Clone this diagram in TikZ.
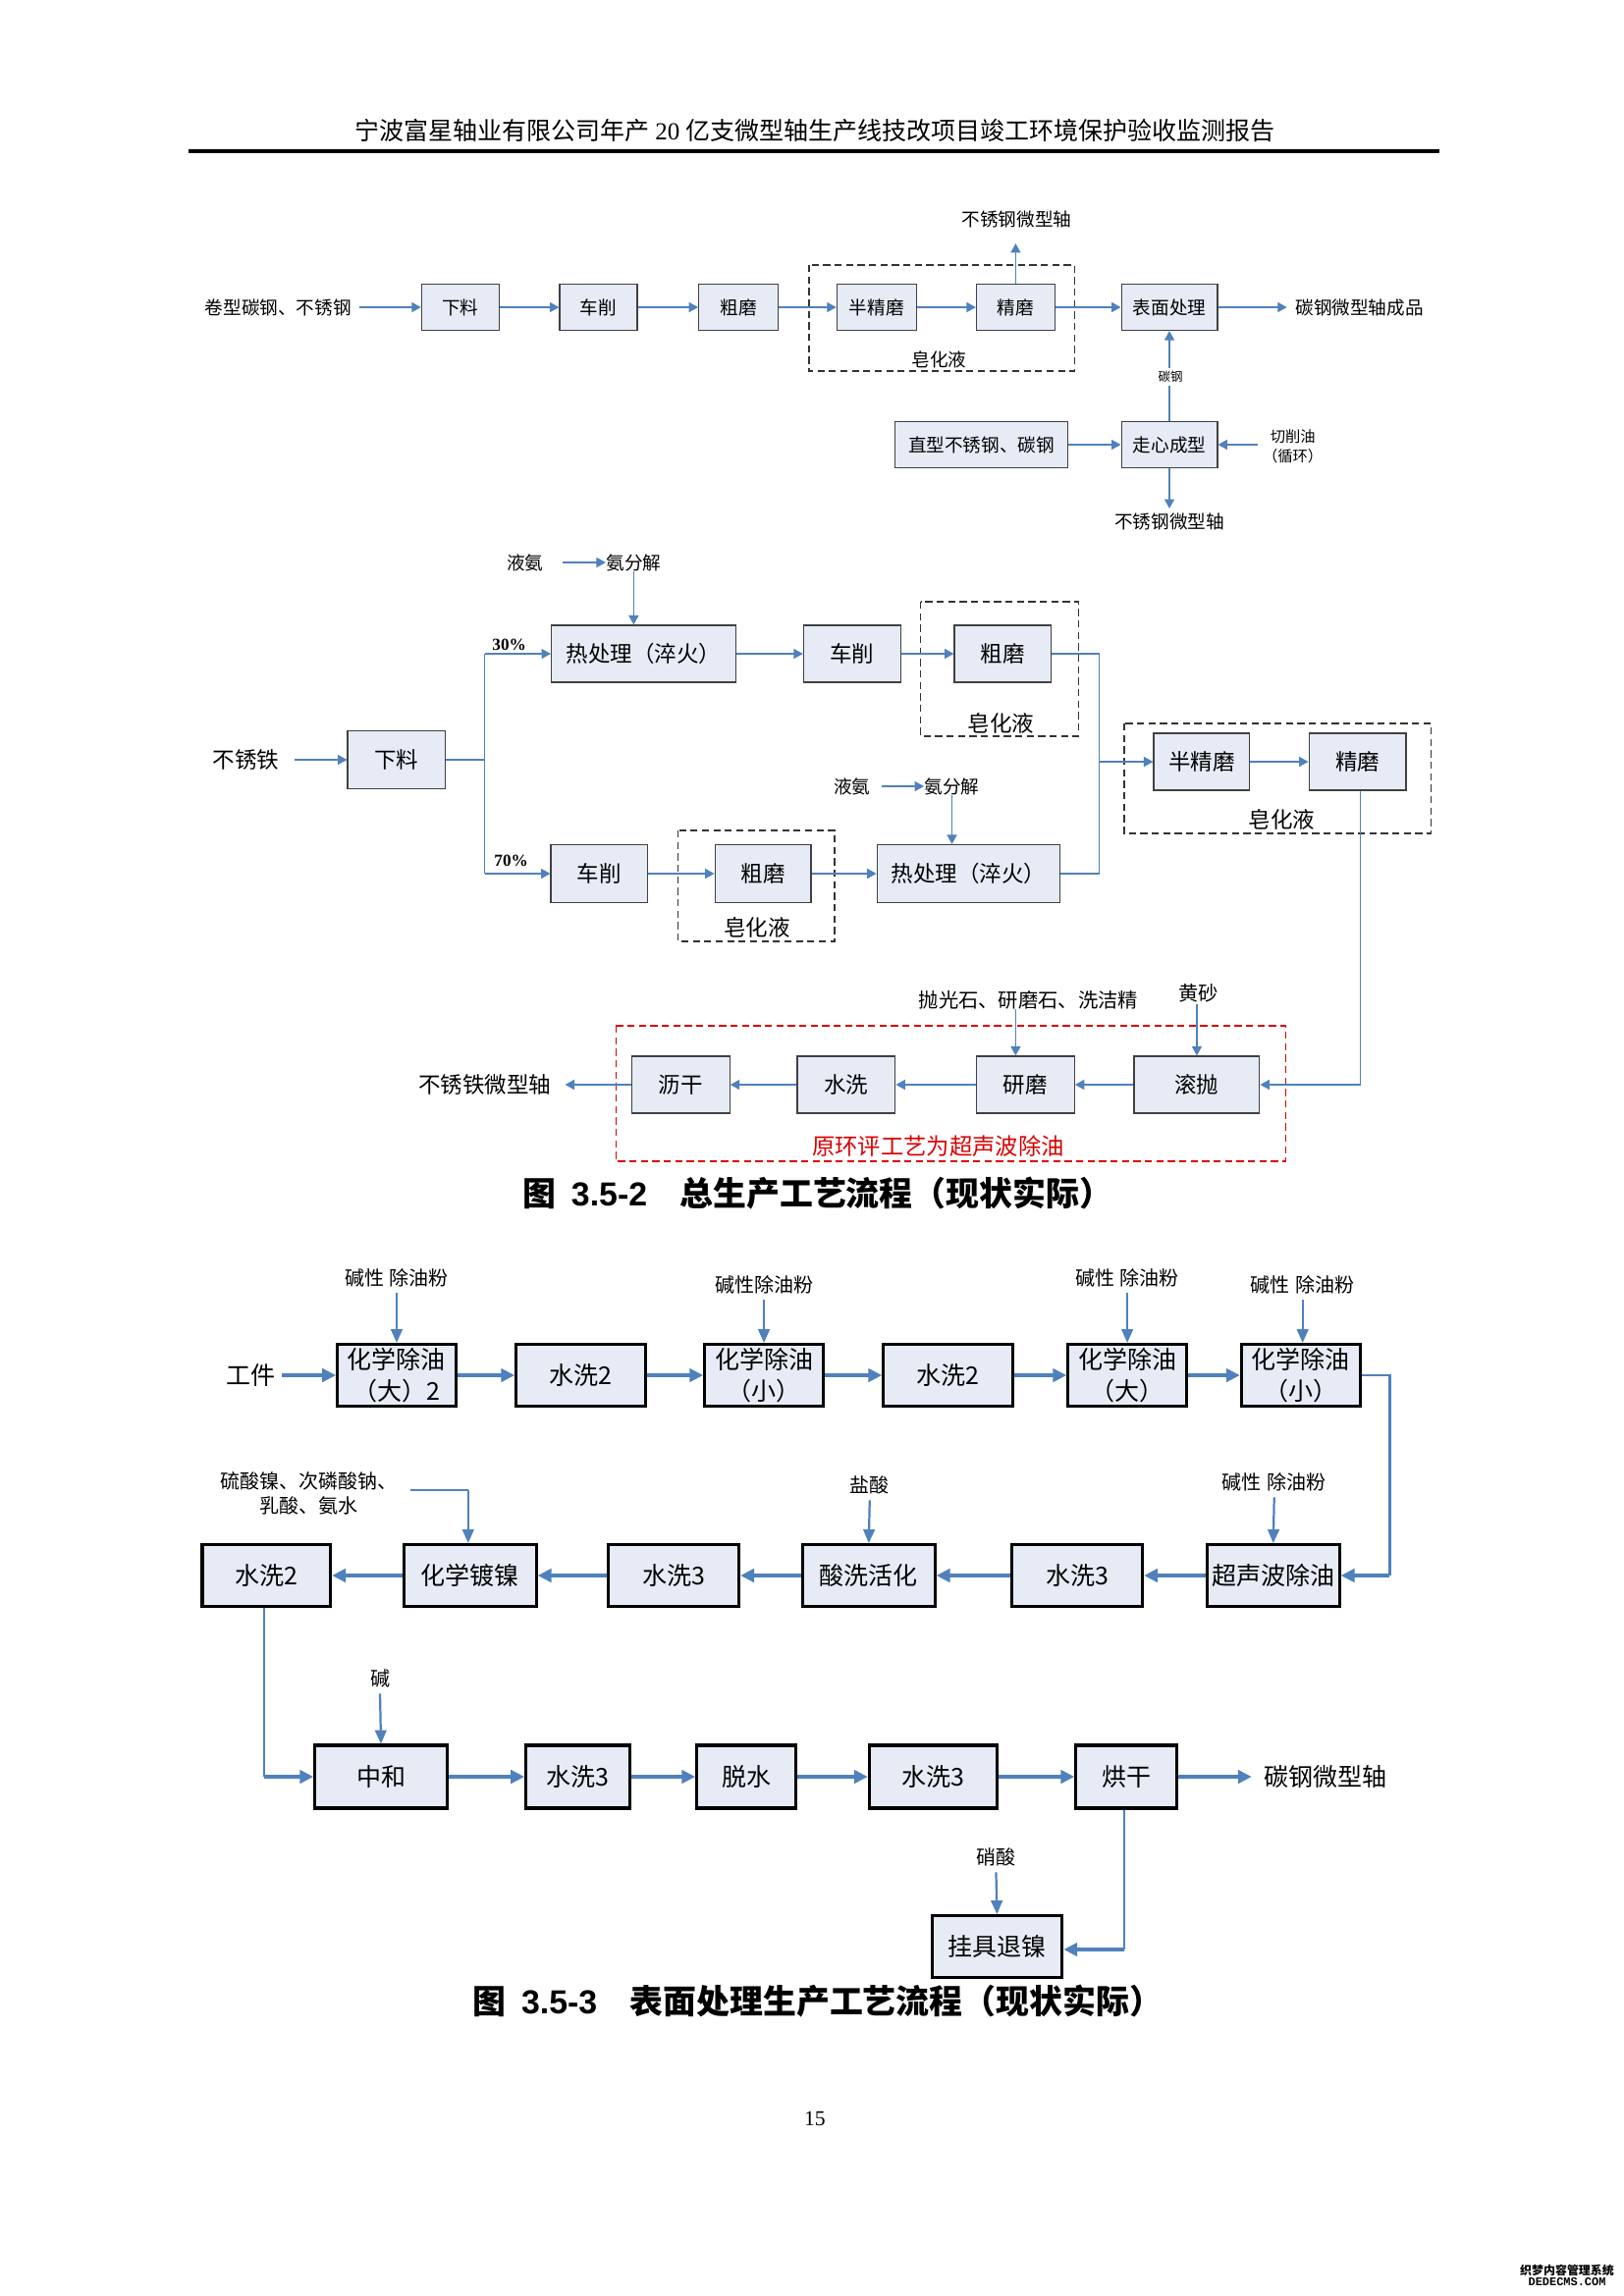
\documentclass[tikz,border=0pt]{standalone}
\usepackage{fontspec}
\setmainfont{Liberation Serif}
\newfontfamily\cjk{Noto Sans CJK SC}
\newfontfamily\arialf{Liberation Sans}
\newfontfamily\monof{Liberation Mono}
\usetikzlibrary{arrows.meta}
\definecolor{ablue}{RGB}{79,129,189}
\definecolor{bfill}{RGB}{230,235,246}
\newcommand\myfs[2]{\fontsize{#1}{#2}\selectfont}
\newcommand\B[7][b1]{\node[#1,minimum width=#5*0.3591pt,minimum height=#6*0.36pt] (#2) at (#3,#4) {#7};}
\tikzset{
 b1/.style={draw=black!75,line width=0.45pt,fill=bfill,inner sep=0pt,font=\cjk\myfs{6.7}{8}},
 b2/.style={b1,font=\cjk\myfs{8.1}{9.5}},
 b3/.style={draw=black,line width=1.1pt,fill=bfill,inner sep=0pt,align=center,font=\cjk\myfs{9.0}{11.5}},
 t1/.style={inner sep=0pt,font=\cjk\myfs{6.7}{8}},
 t2/.style={inner sep=0pt,font=\cjk\myfs{8.1}{9.5}},
 t3/.style={inner sep=0pt,font=\cjk\myfs{9.0}{11}},
 c3/.style={inner sep=0pt,align=center,font=\cjk\myfs{7.2}{9}},
 ar/.style={draw=ablue,line width=0.5pt,-{Triangle[length=3.4pt,width=3.6pt]}},
 ln/.style={draw=ablue,line width=0.5pt},
 ar3/.style={draw=ablue,line width=1.3pt,-{Triangle[length=5pt,width=4.8pt]}},
 fd3/.style={draw=ablue,line width=0.8pt,-{Triangle[length=5pt,width=4.2pt]}},
 ln3/.style={draw=ablue,line width=0.8pt},
 dbox/.style={draw=black!80,line width=0.5pt,dash pattern=on 2.6pt off 1.6pt},
 rbox/.style={draw=red!85!black,line width=0.5pt,dash pattern=on 2.6pt off 1.6pt},
}
\begin{document}
\begin{tikzpicture}[x=0.3591pt,y=-0.36pt]
\useasboundingbox[fill=white] (0,0) rectangle (1658.1,2339);
% header
\node[inner sep=0pt,font=\cjk\myfs{9.0}{10}] (hdr) at (832,133) {宁波富星轴业有限公司年产 {\rmfamily 20} 亿支微型轴生产线技改项目竣工环境保护验收监测报告};
\coordinate (hl) at (192,154);
\coordinate (hr) at (1470,154);
\draw[line width=1.1pt] (hl) -- (hr);

% ===== Figure 1 =====
\draw[dbox] (826,270) rectangle (1097,378);
\node[t1] (zh1) at (959,366) {皂化液};
\node[t1] (in1) at (284,313) {卷型碳钢、不锈钢};
\B{xl}{470}{313}{79}{47}{下料}
\B{cx}{611}{313}{79}{47}{车削}
\B{cm}{754}{313}{81}{47}{粗磨}
\B{bj}{895}{313}{81}{47}{半精磨}
\B{jm}{1037}{313}{80}{47}{精磨}
\B{bm}{1194}{313}{98}{47}{表面处理}
\node[t1] (out1) at (1388,313) {碳钢微型轴成品};
\coordinate (in1e) at (367,313);
\coordinate (out1w) at (1314,313);
\draw[ar] (in1e) -- (xl);
\draw[ar] (xl) -- (cx);
\draw[ar] (cx) -- (cm);
\draw[ar] (cm) -- (bj);
\draw[ar] (bj) -- (jm);
\draw[ar] (jm) -- (bm);
\draw[ar] (bm) -- (out1w);
\coordinate (jmup) at (1037,248);
\draw[ar] (jm.north) -- (jmup);
\node[t1] (bx1) at (1038,223) {不锈钢微型轴};
\B{zx}{1194}{453}{98}{47}{走心成型}
\B{zs}{1002}{453}{177}{47}{直型不锈钢、碳钢}
\draw[ar] (zs) -- (zx);
\draw[ar] (zx.north) -- (bm.south);
\node[inner sep=1pt,fill=white,font=\cjk\myfs{4.5}{5}] (tg) at (1195,384) {碳钢};
\node[inner sep=0pt,align=center,font=\cjk\myfs{5.5}{7.2}] (qx) at (1320,455) {切削油\\（循环）};
\coordinate (qxw) at (1284,453);
\draw[ar] (qxw) -- (zx.east);
\coordinate (zxd) at (1194,518);
\draw[ar] (zx.south) -- (zxd);
\node[t1] (bx2) at (1194,531) {不锈钢微型轴};

% ===== Figure 2 =====
\draw[dbox] (940,613) rectangle (1101,750);
\node[t2] (zh2) at (1022,737) {皂化液};
\draw[dbox] (692,846) rectangle (852,959);
\node[t2] (zh3) at (773,945) {皂化液};
\draw[dbox] (1148,737) rectangle (1461,849);
\node[t2] (zh4) at (1309,835) {皂化液};

\node[t1] (la1) at (536,573) {液氨};
\node[t1] (af1) at (647,573) {氨分解};
\coordinate (la1e) at (574,573);
\draw[ar] (la1e) -- (af1.west);
\B[b2]{rc1}{657}{666}{188}{58}{热处理（淬火）}
\B[b2]{cx2}{870}{666}{99}{58}{车削}
\B[b2]{cm2}{1024}{666}{99}{58}{粗磨}
\draw[ar] (af1.south) -- (af1.south |- rc1.north);
\draw[ar] (rc1) -- (cx2);
\draw[ar] (cx2) -- (cm2);

\node[t2] (bxt) at (251,774) {不锈铁};
\B[b2]{xl2}{405}{774}{100}{59}{下料}
\coordinate (bxte) at (301,774);
\draw[ar] (bxte) -- (xl2.west);
\coordinate (tm) at (495,774);
\coordinate (tt) at (495,666);
\coordinate (tb) at (495,890);
\draw[ln] (xl2.east) -- (tm);
\draw[ln] (tt) -- (tb);
\draw[ar] (tt) -- (rc1.west);
\node[inner sep=0pt,font=\bfseries\myfs{6.2}{7}] (p30) at (520,657) {30\%};
\node[inner sep=0pt,font=\bfseries\myfs{6.2}{7}] (p70) at (522,877) {70\%};

\B[b2]{cx3}{612}{890}{99}{59}{车削}
\B[b2]{cm3}{779}{890}{98}{59}{粗磨}
\B[b2]{rc2}{989}{890}{187}{59}{热处理（淬火）}
\draw[ar] (tb) -- (cx3.west);
\draw[ar] (cx3) -- (cm3);
\draw[ar] (cm3) -- (rc2);
\node[t1] (la2) at (870,801) {液氨};
\node[t1] (af2) at (972,801) {氨分解};
\coordinate (la2e) at (900,801);
\draw[ar] (la2e) -- (af2.west);
\draw[ar] (af2.south) -- (af2.south |- rc2.north);

\coordinate (mt) at (1122,666);
\coordinate (mb) at (1122,890);
\coordinate (mm) at (1122,776);
\draw[ln] (cm2.east) -- (mt) -- (mb) -- (rc2.east);
\B[b2]{bj2}{1227}{776}{98}{58}{半精磨}
\B[b2]{jm2}{1386}{776}{99}{58}{精磨}
\draw[ar] (mm) -- (bj2.west);
\draw[ar] (bj2) -- (jm2);

\draw[rbox] (629,1045) rectangle (1313,1183);
\node[inner sep=0pt,text=red!85!black,font=\cjk\myfs{8.4}{10}] (ypl) at (958,1168) {原环评工艺为超声波除油};
\B[b2]{gp}{1222}{1105}{128}{58}{滚抛}
\B[b2]{ym}{1047}{1105}{100}{58}{研磨}
\B[b2]{sx}{864}{1105}{100}{58}{水洗}
\B[b2]{lg}{695}{1105}{100}{58}{沥干}
\node[t2] (out2) at (495,1105) {不锈铁微型轴};
\coordinate (jmd) at (1389,1105);
\draw[ln] (jm2.south -| jmd) -- (jmd);
\draw[ar] (jmd) -- (gp.east);
\draw[ar] (gp) -- (ym);
\draw[ar] (ym) -- (sx);
\draw[ar] (sx) -- (lg);
\coordinate (out2e) at (577,1105);
\draw[ar] (lg.west) -- (out2e);
\node[inner sep=0pt,font=\cjk\myfs{7.3}{8}] (pgs) at (1050,1019) {抛光石、研磨石、洗洁精};
\coordinate (pgd) at (1037,1028);
\draw[ar] (pgd) -- (pgd |- ym.north);
\node[inner sep=0pt,font=\cjk\myfs{7.3}{8}] (hs) at (1224,1012) {黄砂};
\coordinate (hsd) at (1222,1023);
\draw[ar] (hsd) -- (hsd |- gp.north);

\node[inner sep=0pt,font=\myfs{12.2}{14}] (cap1) at (835,1216) {{\cjk\bfseries 图}\hspace{5.5pt}{\arialf\bfseries 3.5-2}\hspace{12pt}{\cjk\bfseries 总生产工艺流程（现状实际）}};

% ===== Figure 3 =====
\node[t3] (w1) at (256,1401) {工件};
\B[b3]{a1}{405}{1401}{121}{63}{化学除油\\（大）2}
\B[b3]{a2}{593}{1401}{132}{63}{水洗2}
\B[b3]{a3}{780}{1401}{121}{63}{化学除油\\（小）}
\B[b3]{a4}{968}{1401}{132}{63}{水洗2}
\B[b3]{a5}{1151}{1401}{121}{63}{化学除油\\（大）}
\B[b3]{a6}{1328}{1401}{121}{63}{化学除油\\（小）}
\coordinate (w1e) at (288,1401);
\draw[ar3] (w1e) -- (a1.west);
\draw[ar3] (a1) -- (a2);
\draw[ar3] (a2) -- (a3);
\draw[ar3] (a3) -- (a4);
\draw[ar3] (a4) -- (a5);
\draw[ar3] (a5) -- (a6);
\node[c3] (c1) at (405,1302) {碱性\hspace{2pt}除油粉};
\node[c3] (c2) at (780,1309) {碱性除油粉};
\node[c3] (c3) at (1151,1302) {碱性\hspace{2pt}除油粉};
\node[c3] (c4) at (1330,1309) {碱性\hspace{2pt}除油粉};
\draw[fd3] ([yshift=-2pt]c1.south) -- (a1.north);
\draw[fd3] ([yshift=-2pt]c2.south) -- (a3.north);
\draw[fd3] ([yshift=-2pt]c3.south) -- (a5.north);
\draw[fd3] ([yshift=-2pt]c4.south) -- (c4.south |- a6.north);

\B[b3]{r1}{272}{1605}{131}{63}{水洗2}
\B[b3]{r2}{480}{1605}{135}{63}{化学镀镍}
\B[b3]{r3}{688}{1605}{133}{63}{水洗3}
\B[b3]{r4}{887}{1605}{135}{63}{酸洗活化}
\B[b3]{r5}{1100}{1605}{133}{63}{水洗3}
\B[b3]{r6}{1300}{1605}{135}{63}{超声波除油}
\coordinate (rt) at (1419,1401);
\coordinate (rb) at (1419,1605);
\draw[ln3] (a6.east) -- (rt) -- (rb);
\draw[ar3] (rb) -- (r6.east);
\draw[ar3] (r6) -- (r5);
\draw[ar3] (r5) -- (r4);
\draw[ar3] (r4) -- (r3);
\draw[ar3] (r3) -- (r2);
\draw[ar3] (r2) -- (r1);
\node[c3] (ni) at (315,1521) {硫酸镍、次磷酸钠、\\乳酸、氨水};
\coordinate (nis) at (419,1518);
\coordinate (nic) at (478,1518);
\draw[ln3] (nis) -- (nic);
\draw[fd3] (nic) -- (nic |- r2.north);
\node[c3] (hcl) at (888,1513) {盐酸};
\draw[fd3] ([yshift=-2pt]hcl.south) -- (r4.north);
\node[c3] (c5) at (1301,1510) {碱性\hspace{2pt}除油粉};
\draw[fd3] ([yshift=-2pt]c5.south) -- (r6.north);

\B[b3]{d1}{389}{1810}{135}{64}{中和}
\B[b3]{d2}{590}{1810}{106}{64}{水洗3}
\B[b3]{d3}{762}{1810}{101}{64}{脱水}
\B[b3]{d4}{953}{1810}{131}{64}{水洗3}
\B[b3]{d5}{1150}{1810}{103}{64}{烘干}
\coordinate (dl) at (270,1810);
\draw[ln3] (r1.south -| dl) -- (dl);
\draw[ar3] (dl) -- (d1.west);
\draw[ar3] (d1) -- (d2);
\draw[ar3] (d2) -- (d3);
\draw[ar3] (d3) -- (d4);
\draw[ar3] (d4) -- (d5);
\node[t3] (out3) at (1353,1810) {碳钢微型轴};
\coordinate (out3w) at (1278,1810);
\draw[ar3] (d5.east) -- (out3w);
\node[c3] (jian) at (388,1710) {碱};
\draw[fd3] ([yshift=-2pt]jian.south) -- (d1.north);

\B[b3]{e1}{1018}{1983}{133}{63}{挂具退镍}
\coordinate (dd) at (1148,1986);
\draw[ln3] (d5.south -| dd) -- (dd);
\draw[ar3] (dd) -- (e1.east |- dd);
\node[c3] (xs) at (1017,1892) {硝酸};
\draw[fd3] ([yshift=-2pt]xs.south) -- (e1.north);

\node[inner sep=0pt,font=\myfs{12.2}{14}] (cap2) at (835,2039) {{\cjk\bfseries 图}\hspace{5.5pt}{\arialf\bfseries 3.5-3}\hspace{12pt}{\cjk\bfseries 表面处理生产工艺流程（现状实际）}};

\node[inner sep=0pt,font=\myfs{7.8}{9}] (pg) at (832,2158) {15};
\node[inner sep=0pt,font=\cjk\bfseries\myfs{4.3}{5}] (wm1) at (1600,2313) {织梦内容管理系统};
\node[inner sep=0pt,font=\monof\bfseries\myfs{4.3}{5}] (wm2) at (1600,2325) {DEDECMS.COM};
\end{tikzpicture}
\end{document}
